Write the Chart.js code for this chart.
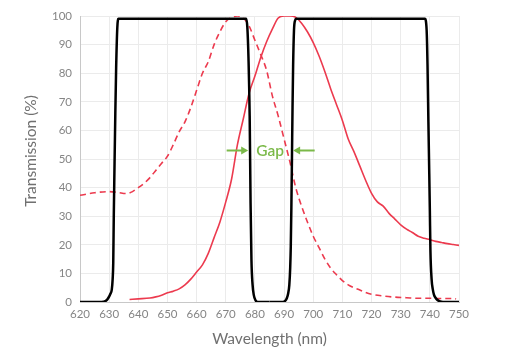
<!DOCTYPE html>
<html>
<head>
<meta charset="utf-8">
<script src="https://cdn.jsdelivr.net/npm/chart.js@4.4.1/dist/chart.umd.min.js"></script>
<style>
html,body{margin:0;padding:0;background:#fff;}
#wrap{width:532px;height:356px;}
</style>
</head>
<body>
<div id="wrap"><canvas id="c" width="532" height="356"></canvas></div>
<script>
// Excitation spectrum (dashed red)
const exWl = [620,625,630,633,636,638,640,642,644,646,648,650,652,654,656,658,660,662,664,666,668,670,672,674,676,678,680,682,684,686,688,690,692,694,696,698,700,702,704,706,708,710,712,714,716,718,720,724,728,732,736,740,744,748,749];
const exT  = [37.3,38.2,38.6,38.3,37.9,38.6,40,41.5,43.5,46,48.5,51,55,59.5,63,68,74,80,84,90,94.5,98,99.5,100,99.3,96.5,91.5,86.5,81,72,65,57,49,40,33.5,28,23,19,15,11.8,9.5,7.5,6,5,4.2,3.3,2.7,2.1,1.7,1.5,1.3,1.3,1.2,1.2,1.1];
// Emission spectrum (solid red)
const emWl = [637,640,644,646,648,650,652,654,656,658,660,662,664,666,668,670,672,674,676,678,680,682,684,686,688,690,692,694,696,698,700,702,704,706,708,710,712,714,716,718,720,722,724,726,728,730,732,734,736,738,740,742,744,746,748,750];
const emT  = [0.9,1.1,1.4,1.8,2.4,3.2,3.8,4.6,6,8,10.5,13,17,22.5,28,35,43,55,64,73,79,85.5,91,95.5,99.3,100,100,99.5,97.5,94.5,90.7,86,80.5,74.5,69,63.5,57,52.5,47.5,42.5,38,35,33.5,31,29,27,25.5,24.3,23,22.3,21.8,21.2,20.8,20.4,20.1,19.8];
// Excitation filter (black)
const f1Wl = [620,627,628,629,629.7,630.4,630.9,631.2,631.4,631.6,631.8,632.1,632.4,632.8,633.2,677,677.4,677.8,678.2,678.5,678.8,679.2,679.6,680.2,681,685];
const f1T  = [0,0,0.1,0.5,1.4,2.8,4.3,8,13.6,31,45,65,82,96,99,99,96,85,65,35,15,6,2.5,0.6,0,0];
// Emission filter (black)
const f2Wl = [685,689.5,690.5,691,691.4,691.8,692.1,692.3,692.5,692.7,692.9,693.1,693.4,693.8,694.2,738.3,738.9,739.2,739.5,739.8,740.0,740.2,740.6,741,741.4,742,742.5,743.5,744.5,750];
const f2T  = [0,0,0.5,1.5,3,6,12,19.5,33,50,68,82.5,95,98.5,99,99,95,83,63,45,32,18,8,4.5,2.6,1.4,0.8,0.2,0,0];
// Axis ticks
const xMin = 620, xMax = 750, xStep = 10;
const yMin = 0, yMax = 100, yStep = 10;
// Gap annotation (data units)
const gapLabel = 'Gap';
const gapY = 53.3;
const gapLeftArrow = [670.3, 677.7];
const gapRightArrow = [700.5, 693.1];
const gapTextX = 685.2;

const pts = (xs, ys) => xs.map((x, i) => ({x: x, y: ys[i]}));
const RED = '#ec3a4e';
const GREEN = '#7bb949';
const FONT = 'Lato, "Open Sans", sans-serif';

const annot = {
  id: 'annot',
  afterDatasetsDraw(chart) {
    const {ctx, scales: {x, y}} = chart;
    const py = Math.round(y.getPixelForValue(gapY)) + 0.5;
    ctx.save();
    ctx.strokeStyle = GREEN; ctx.fillStyle = GREEN; ctx.lineWidth = 2;
    const arrow = (from, to) => {
      const a = x.getPixelForValue(from), b = x.getPixelForValue(to);
      const dir = Math.sign(b - a);
      ctx.beginPath(); ctx.moveTo(a, py); ctx.lineTo(b - dir * 5, py); ctx.stroke();
      ctx.beginPath(); ctx.moveTo(b, py); ctx.lineTo(b - dir * 7, py - 4); ctx.lineTo(b - dir * 7, py + 4); ctx.closePath(); ctx.fill();
    };
    arrow(gapLeftArrow[0], gapLeftArrow[1]);
    arrow(gapRightArrow[0], gapRightArrow[1]);
    ctx.font = '600 15.5px ' + FONT;
    ctx.textAlign = 'center'; ctx.textBaseline = 'middle';
    ctx.fillText(gapLabel, x.getPixelForValue(gapTextX), py);
    ctx.restore();
  },
  afterDraw(chart) {
    const {ctx} = chart;
    ctx.save();
    ctx.translate(31, 151);
    ctx.rotate(-Math.PI / 2);
    ctx.font = '15.5px ' + FONT;
    ctx.fillStyle = '#707070';
    ctx.textAlign = 'center'; ctx.textBaseline = 'middle';
    ctx.fillText('Transmission (%)', 0, 0);
    ctx.restore();
  }
};

new Chart(document.getElementById('c'), {
  type: 'line',
  data: {
    datasets: [
      {label: 'Excitation', data: pts(exWl, exT), borderColor: RED, borderWidth: 1.6, borderDash: [6, 4], pointRadius: 0, cubicInterpolationMode: 'monotone', order: 3},
      {label: 'Emission', data: pts(emWl, emT), borderColor: RED, borderWidth: 1.6, pointRadius: 0, cubicInterpolationMode: 'monotone', order: 2},
      {label: 'Filter 1', data: pts(f1Wl, f1T), borderColor: '#000', borderWidth: 2.5, pointRadius: 0, cubicInterpolationMode: 'monotone', order: 1},
      {label: 'Filter 2', data: pts(f2Wl, f2T), borderColor: '#000', borderWidth: 2.5, pointRadius: 0, cubicInterpolationMode: 'monotone', order: 0}
    ]
  },
  options: {
    responsive: false,
    animation: false,
    events: [],
    layout: {padding: {top: 16, right: 73, bottom: 0, left: 0}},
    plugins: {legend: {display: false}, tooltip: {enabled: false}},
    scales: {
      x: {
        type: 'linear', min: xMin, max: xMax,
        ticks: {stepSize: xStep, color: '#858585', font: {family: FONT, size: 11.5}, padding: 5, maxRotation: 0, autoSkip: false},
        grid: {color: '#ebebeb', drawTicks: false},
        border: {color: '#c8c8c8'},
        title: {display: true, text: 'Wavelength (nm)', color: '#707070', font: {family: FONT, size: 15.5}, padding: {bottom: 8}},
        afterFit(s) { s.height = 54; }
      },
      y: {
        min: yMin, max: yMax,
        ticks: {stepSize: yStep, color: '#858585', font: {family: FONT, size: 11.5}, padding: 8},
        grid: {color: '#ebebeb', drawTicks: false},
        border: {color: '#c8c8c8'},
        afterFit(s) { s.width = 80; }
      }
    }
  },
  plugins: [annot]
});
</script>
</body>
</html>
